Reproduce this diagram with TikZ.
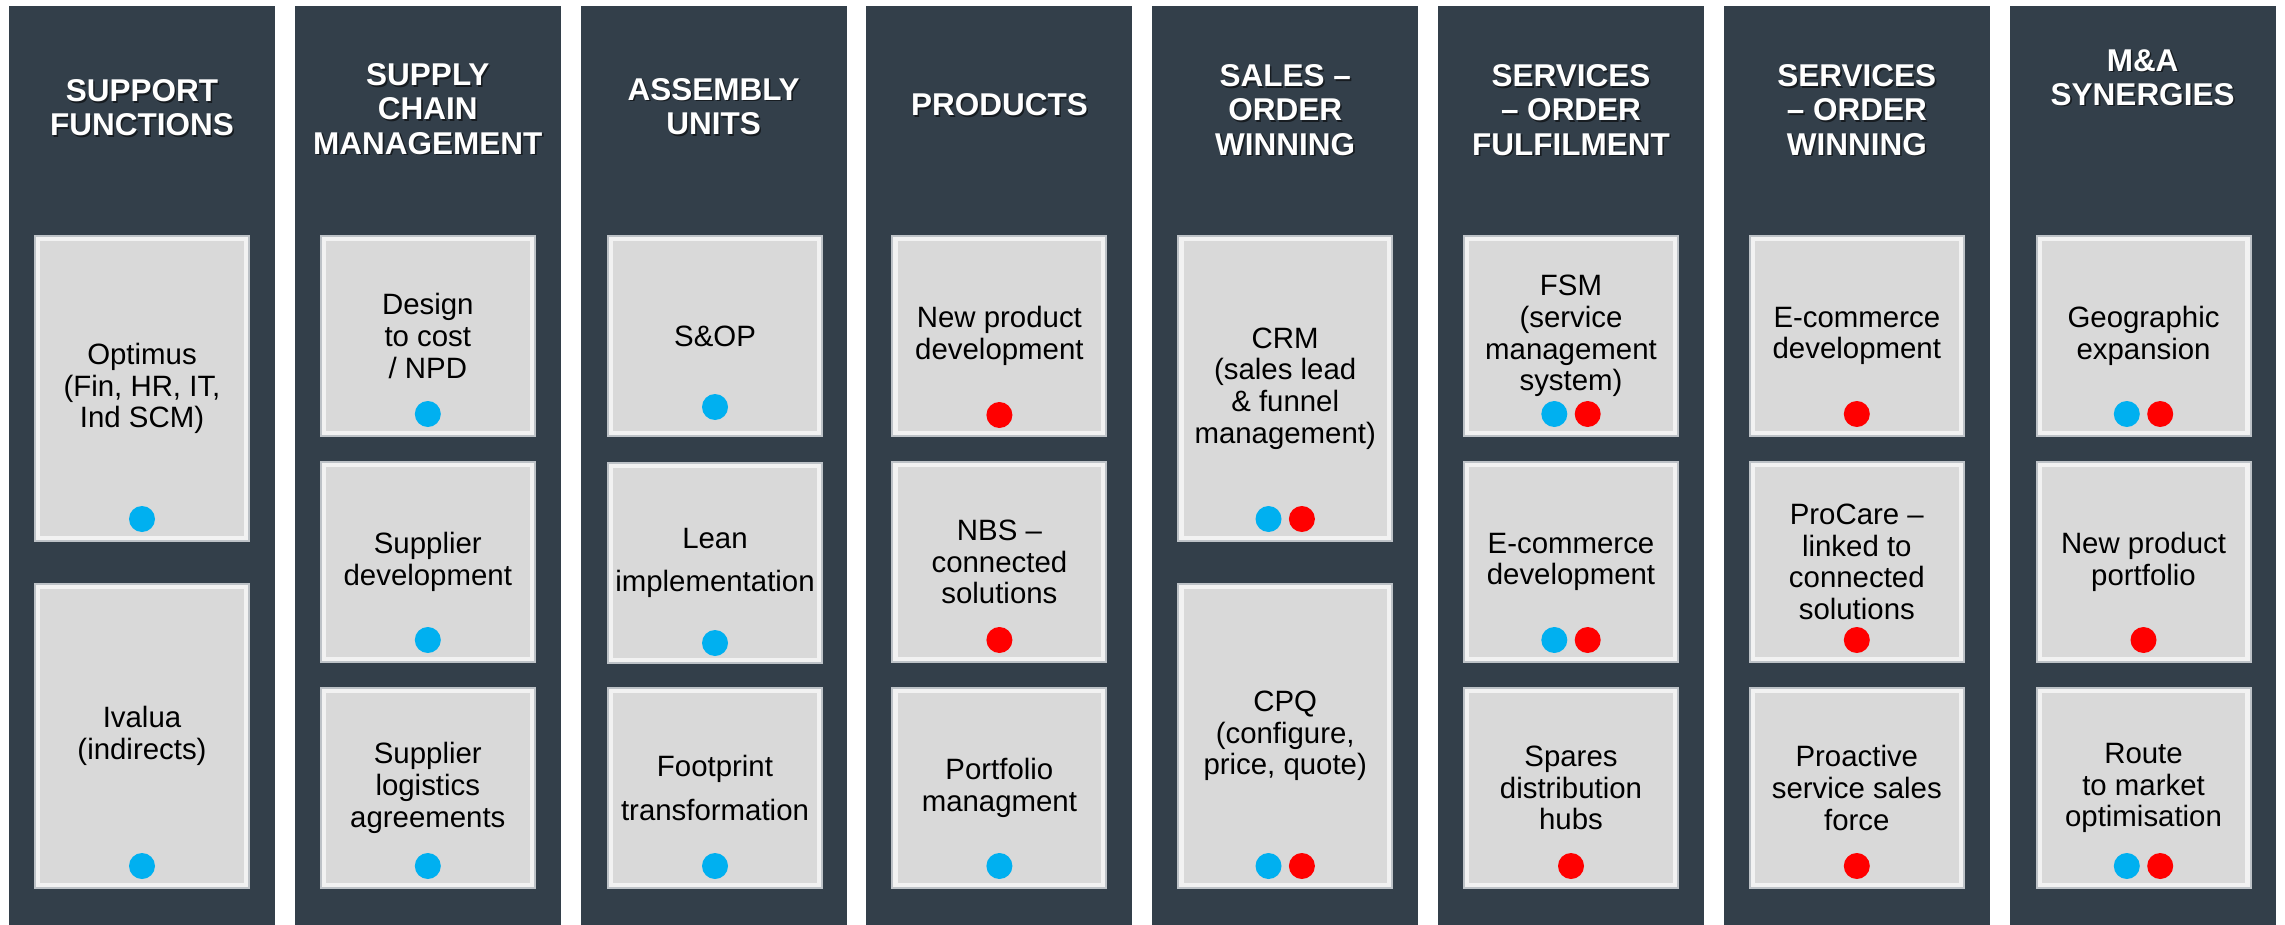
\documentclass[tikz,border=0pt]{standalone}
\usepackage{fontspec}
\setmainfont{Liberation Sans}

\definecolor{colbg}{HTML}{333F4A}
\definecolor{cellfill}{HTML}{D9D9D9}
\definecolor{cellband}{HTML}{F2F2F2}
\definecolor{celledge}{HTML}{BDC2C7}
\definecolor{dotblue}{HTML}{00B0F0}
\definecolor{dotred}{HTML}{FF0000}

\newcommand\bodyfont{\fontsize{29.4pt}{31.7pt}\selectfont}
\newcommand\headfont{\fontsize{31.5pt}{34.3pt}\selectfont\bfseries}

% column header: white bold text over a soft dark shadow
\newcommand\colhead[3]{%
  \node[headshadow, xshift=1.6pt, yshift=-1.6pt] (#1-sh) at (#2) {#3};
  \node[headtext] (#1) at (#2) {#3};}

\begin{document}
\begin{tikzpicture}[x=1pt, y=-1pt,
  column/.style={rectangle, fill=colbg, inner sep=0pt, outer sep=0pt,
    minimum width=266pt, minimum height=919pt},
  headtext/.style={align=center, text=white, font=\headfont, inner sep=0pt},
  headshadow/.style={align=center, text=black, text opacity=0.55, font=\headfont, inner sep=0pt},
  cell/.style={rectangle, inner sep=0pt, outer sep=0pt, fill=cellfill,
    draw=cellband, line width=4.3pt,
    preaction={draw=celledge, line width=8.3pt},
    minimum width=207.7pt, minimum height=193.7pt,
    align=center, font=\bodyfont, text=black},
  tallcell/.style={cell, minimum height=298.5pt},
  bdot/.style={circle, fill=dotblue, inner sep=0pt, minimum size=26pt},
  rdot/.style={circle, fill=dotred, inner sep=0pt, minimum size=26pt}]

\useasboundingbox[fill=white] (0,0) rectangle (2285,925);

% dark column panels
\node[column] (c1) at (142,465.5) {};
\node[column] (c2) at (427.8,465.5) {};
\node[column] (c3) at (713.6,465.5) {};
\node[column] (c4) at (999.4,465.5) {};
\node[column] (c5) at (1285.2,465.5) {};
\node[column] (c6) at (1571,465.5) {};
\node[column] (c7) at (1856.8,465.5) {};
\node[column] (c8) at (2142.6,465.5) {};

% headers
\colhead{h1}{142,108}{SUPPORT\\FUNCTIONS}
\colhead{h2}{427.8,109}{SUPPLY\\CHAIN\\MANAGEMENT}
\colhead{h3}{713.6,106.5}{ASSEMBLY\\UNITS}
\colhead{h4}{999.4,105}{PRODUCTS}
\colhead{h5}{1285.2,110}{SALES –\\ORDER\\WINNING}
\colhead{h6}{1571,110}{SERVICES\\– ORDER\\FULFILMENT}
\colhead{h7}{1856.8,110}{SERVICES\\– ORDER\\WINNING}
\colhead{h8}{2142.6,77.5}{M\&A\\SYNERGIES}

% support functions
\node[tallcell] (b11) at (142,388.5) {Optimus\\(Fin, HR, IT,\\Ind SCM)};
\node[bdot] (d11b) at (142,519) {};
\node[tallcell] (b12) at (142,736) {Ivalua\\(indirects)};
\node[bdot] (d12b) at (142,866) {};

% supply chain management
\node[cell] (b21) at (427.8,336) {Design\\to cost\\/ NPD};
\node[bdot] (d21b) at (427.8,414) {};
\node[cell] (b22) at (427.8,562) {Supplier\\development};
\node[bdot] (d22b) at (427.8,640) {};
\node[cell] (b23) at (427.8,788) {Supplier\\logistics\\agreements};
\node[bdot] (d23b) at (427.8,866) {};

% assembly units
\node[cell] (b31) at (715,336) {S\&OP};
\node[bdot] (d31b) at (715,407) {};
\node[cell] (b32) at (715,563) {Lean\\[12pt]implementation};
\node[bdot] (d32b) at (715,643) {};
\node[cell] (b33) at (715,788) {Footprint\\[12pt]transformation};
\node[bdot] (d33b) at (715,866) {};

% products
\node[cell] (b41) at (999.4,336) {New product\\development};
\node[rdot] (d41r) at (999.4,415) {};
\node[cell] (b42) at (999.4,562) {NBS –\\connected\\solutions};
\node[rdot] (d42r) at (999.4,640) {};
\node[cell] (b43) at (999.4,788) {Portfolio\\managment};
\node[bdot] (d43b) at (999.4,866) {};

% sales - order winning
\node[tallcell] (b51) at (1285.2,388.5) {CRM\\(sales lead\\\& funnel\\management)};
\node[bdot] (d51b) at (1268.5,519) {};
\node[rdot] (d51r) at (1301.9,519) {};
\node[tallcell] (b52) at (1285.2,736) {CPQ\\(configure,\\price, quote)};
\node[bdot] (d52b) at (1268.5,866) {};
\node[rdot] (d52r) at (1301.9,866) {};

% services - order fulfilment
\node[cell] (b61) at (1571,336) {FSM\\(service\\management\\system)};
\node[bdot] (d61b) at (1554.3,414) {};
\node[rdot] (d61r) at (1587.7,414) {};
\node[cell] (b62) at (1571,562) {E-commerce\\development};
\node[bdot] (d62b) at (1554.3,640) {};
\node[rdot] (d62r) at (1587.7,640) {};
\node[cell] (b63) at (1571,788) {Spares\\distribution\\hubs};
\node[rdot] (d63r) at (1571,866) {};

% services - order winning
\node[cell] (b71) at (1856.8,336) {E-commerce\\development};
\node[rdot] (d71r) at (1856.8,414) {};
\node[cell] (b72) at (1856.8,562) {ProCare –\\linked to\\connected\\solutions};
\node[rdot] (d72r) at (1856.8,640) {};
\node[cell] (b73) at (1856.8,788) {Proactive\\service sales\\force};
\node[rdot] (d73r) at (1856.8,866) {};

% M&A synergies
\node[cell] (b81) at (2143.5,336) {Geographic\\expansion};
\node[bdot] (d81b) at (2126.8,414) {};
\node[rdot] (d81r) at (2160.2,414) {};
\node[cell] (b82) at (2143.5,562) {New product\\portfolio};
\node[rdot] (d82r) at (2143.5,640) {};
\node[cell] (b83) at (2143.5,788) {Route\\to market\\optimisation};
\node[bdot] (d83b) at (2126.8,866) {};
\node[rdot] (d83r) at (2160.2,866) {};

\end{tikzpicture}
\end{document}
